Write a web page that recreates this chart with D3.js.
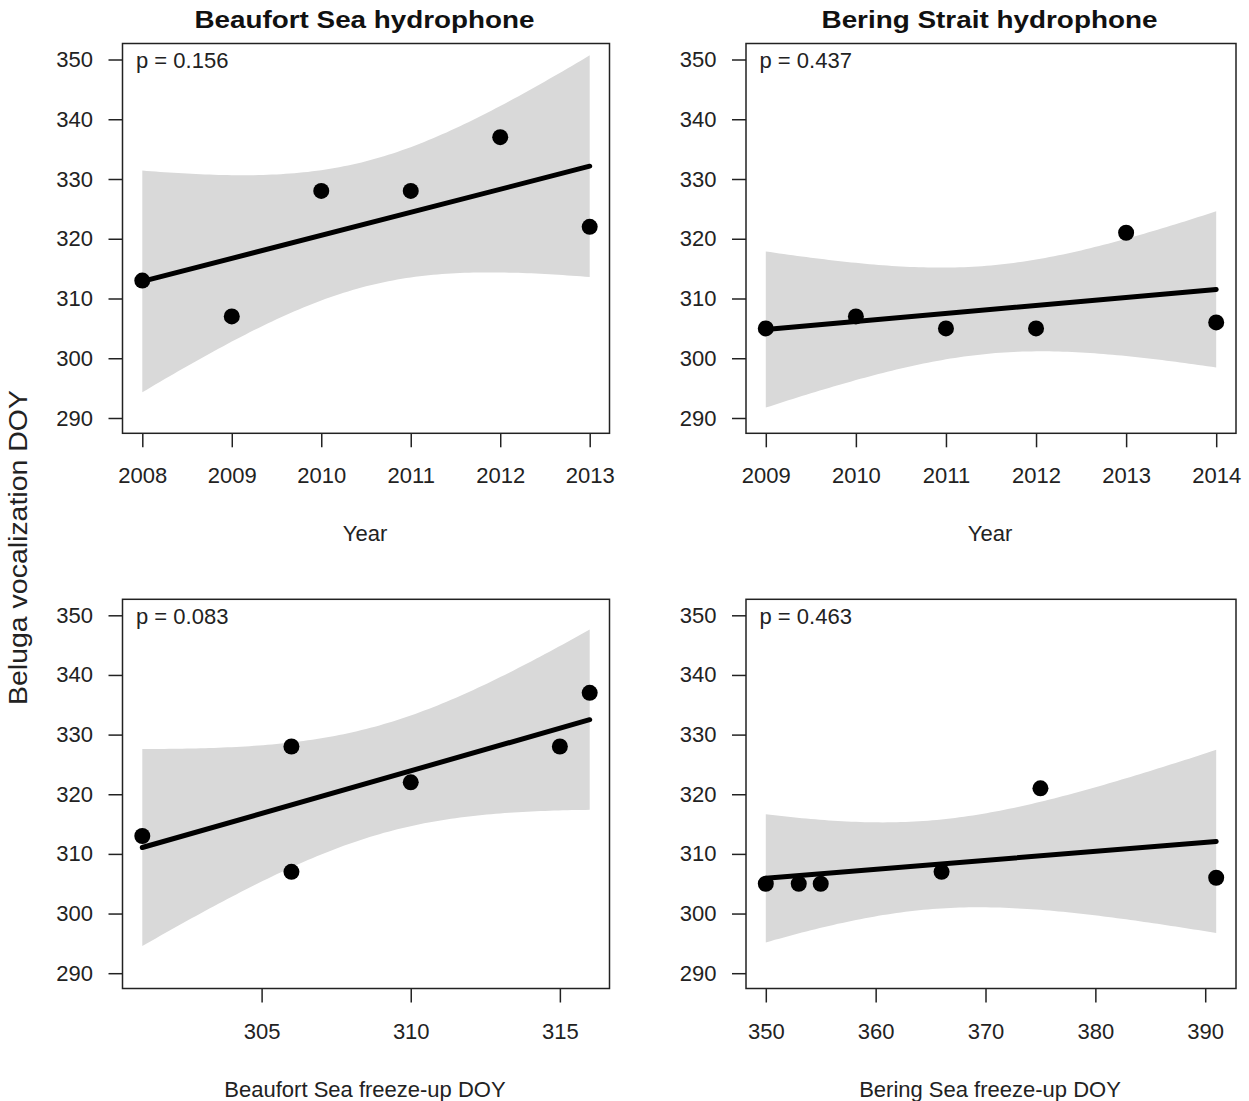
<!DOCTYPE html>
<html>
<head>
<meta charset="utf-8">
<script src="https://cdn.jsdelivr.net/npm/d3@7"></script>
<style>
  body { margin: 0; background: #fff; }
  svg { display: block; font-family: "Liberation Sans", Arial, sans-serif; }
</style>
</head>
<body>
<div id="container"></div>
<script>

/** DATA */
const beaufortYears = [2008, 2009, 2010, 2011, 2012, 2013];
const beaufortDOY = [313, 307, 328, 328, 337, 322];
const beaufortFreezeUp = [301, 306, 306, 315, 316, 310];

const beringYears = [2009, 2010, 2011, 2012, 2013, 2014];
const beringDOY = [305, 307, 305, 305, 321, 306];
const beringFreezeUp = [350, 366, 353, 355, 375, 391];

const titles = ["Beaufort Sea hydrophone", "Bering Strait hydrophone"];
const pValues = ["0.156", "0.437", "0.083", "0.463"];
const xLabels = ["Year", "Year", "Beaufort Sea freeze-up DOY", "Bering Sea freeze-up DOY"];
const yLabel = "Beluga vocalization DOY";

const yTicks = [290, 300, 310, 320, 330, 340, 350];
const beaufortFreezeTicks = [305, 310, 315];
const beringFreezeTicks = [350, 360, 370, 380, 390];

/** CONSTANTS AND GLOBALS */
const width = 1249,
  height = 1101;

// plot boxes (R-style par layout, 2 x 2)
const cols = [{ l: 122.5, r: 609.5 }, { l: 746, r: 1236 }];
const rows = [{ t: 43.5, b: 433.3 }, { t: 599.3, b: 988.5 }];
const padX = 19.8, padTop = 16, padBottom = 15.3;
const tCrit = 2.776; // t(0.975, df = 4)
const textColor = "#222";

const panels = [
  { x: beaufortYears, y: beaufortDOY, ticks: beaufortYears, col: 0, row: 0, p: pValues[0], xlab: xLabels[0] },
  { x: beringYears, y: beringDOY, ticks: beringYears, col: 1, row: 0, p: pValues[1], xlab: xLabels[1] },
  { x: beaufortFreezeUp, y: beaufortDOY, ticks: beaufortFreezeTicks, col: 0, row: 1, p: pValues[2], xlab: xLabels[2] },
  { x: beringFreezeUp, y: beringDOY, ticks: beringFreezeTicks, col: 1, row: 1, p: pValues[3], xlab: xLabels[3] }
];

// simple linear model with 95% confidence band
function linFit(xs, ys) {
  const n = xs.length;
  const mx = d3.mean(xs), my = d3.mean(ys);
  const sxx = d3.sum(xs, x => (x - mx) ** 2);
  const sxy = d3.sum(xs, (x, i) => (x - mx) * (ys[i] - my));
  const slope = sxy / sxx;
  const intercept = my - slope * mx;
  const ssr = d3.sum(xs, (x, i) => (ys[i] - (intercept + slope * x)) ** 2);
  const s = Math.sqrt(ssr / (n - 2));
  return {
    fit: x => intercept + slope * x,
    half: x => tCrit * s * Math.sqrt(1 / n + (x - mx) ** 2 / sxx)
  };
}

const svg = d3.select("#container")
  .append("svg")
  .attr("width", width)
  .attr("height", height);

panels.forEach(p => {
  const c = cols[p.col], r = rows[p.row];

  const xScale = d3.scaleLinear()
    .domain(d3.extent(p.x))
    .range([c.l + padX, c.r - padX]);

  const yScale = d3.scaleLinear()
    .domain([290, 350])
    .range([r.b - padBottom, r.t + padTop]);

  const g = svg.append("g");
  const model = linFit(p.x, p.y);
  const [x0, x1] = d3.extent(p.x);
  const xs = d3.range(0, 101).map(i => x0 + (x1 - x0) * i / 100);

  // confidence band
  g.append("path")
    .datum(xs)
    .attr("fill", "#d9d9d9")
    .attr("d", d3.area()
      .x(d => xScale(d))
      .y0(d => yScale(model.fit(d) - model.half(d)))
      .y1(d => yScale(model.fit(d) + model.half(d))));

  // fitted line
  g.append("line")
    .attr("x1", xScale(x0))
    .attr("x2", xScale(x1))
    .attr("y1", yScale(model.fit(x0)))
    .attr("y2", yScale(model.fit(x1)))
    .attr("stroke", "#000")
    .attr("stroke-width", 5)
    .attr("stroke-linecap", "round");

  // points
  g.selectAll(".pt")
    .data(p.x.map((x, i) => ({ x, y: p.y[i] })))
    .join("circle")
    .attr("class", "pt")
    .attr("cx", d => xScale(d.x))
    .attr("cy", d => yScale(d.y))
    .attr("r", 8)
    .attr("fill", "#000");

  // box
  g.append("rect")
    .attr("x", c.l)
    .attr("y", r.t)
    .attr("width", c.r - c.l)
    .attr("height", r.b - r.t)
    .attr("fill", "none")
    .attr("stroke", "#222")
    .attr("stroke-width", 1.5);

  // axes
  const yAxis = g.append("g")
    .attr("transform", `translate(${c.l},0)`)
    .call(d3.axisLeft(yScale).tickValues(yTicks).tickSize(14).tickPadding(15.5).tickFormat(d3.format("d")));

  const xAxis = g.append("g")
    .attr("transform", `translate(0,${r.b})`)
    .call(d3.axisBottom(xScale).tickValues(p.ticks).tickSize(14).tickPadding(20.5).tickFormat(d3.format("d")));

  [yAxis, xAxis].forEach(a => {
    a.select(".domain").remove();
    a.selectAll("line").attr("stroke", "#222").attr("stroke-width", 1.5);
    a.selectAll("text")
      .attr("fill", textColor)
      .style("font-size", "22px")
      .style("font-family", "'Liberation Sans', Arial, sans-serif");
  });

  // p value
  g.append("text")
    .attr("x", c.l + 13.5)
    .attr("y", r.t + 24.5)
    .attr("fill", textColor)
    .style("font-size", "22px")
    .text(`p = ${p.p}`);

  // x label
  g.append("text")
    .attr("x", (c.l + c.r) / 2 - 1)
    .attr("y", r.b + 108)
    .attr("text-anchor", "middle")
    .attr("fill", textColor)
    .style("font-size", "22px")
    .text(p.xlab);
});

// column titles
titles.forEach((t, i) => {
  const c = cols[i];
  svg.append("text")
    .attr("x", (c.l + c.r) / 2 - 1.5)
    .attr("y", 27.5)
    .attr("text-anchor", "middle")
    .attr("font-weight", "bold")
    .attr("fill", "#111")
    .style("font-size", "24px")
    .attr("textLength", i === 0 ? 340 : 336)
    .attr("lengthAdjust", "spacingAndGlyphs")
    .text(t);
});

// shared y label
svg.append("text")
  .attr("transform", "translate(27,547.5) rotate(-90)")
  .attr("text-anchor", "middle")
  .attr("fill", textColor)
  .style("font-size", "25px")
  .attr("textLength", 315)
  .attr("lengthAdjust", "spacingAndGlyphs")
  .text(yLabel);

</script>
</body>
</html>
